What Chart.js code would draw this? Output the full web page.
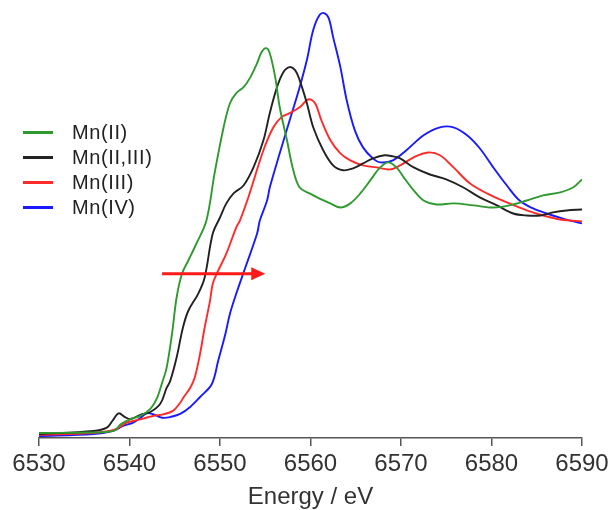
<!DOCTYPE html>
<html>
<head>
<meta charset="utf-8">
<script src="https://cdn.jsdelivr.net/npm/chart.js@4/dist/chart.umd.min.js"></script>
<style>
  html, body { margin: 0; padding: 0; background: #fff; }
  #wrap { position: relative; width: 612px; height: 510px; }
  #legend { position: absolute; left: 0; top: 0; font-family: "Liberation Sans", Arial, sans-serif; font-size: 20px; letter-spacing: 0.6px; color: #222; }
  .item { position: absolute; left: 23px; height: 24px; white-space: nowrap; }
  .swatch { position: absolute; left: 0; top: 11px; width: 30px; height: 3px; }
  .lbl { position: absolute; left: 49px; top: 0; line-height: 24px; }
</style>
</head>
<body>
<div id="wrap">
  <canvas id="c" width="612" height="510"></canvas>
  <div id="legend"></div>
</div>
<script>
// ---- data ----
const seriesLabels = ["Mn(II)", "Mn(II,III)", "Mn(III)", "Mn(IV)"];
const seriesColors = ["#2f9a2f", "#222222", "#ff2a2a", "#1a1aff"];

const mn2E = [6530,6535,6538.2,6539.1,6540.1,6541.2,6542.3,6543.0,6543.6,6544.1,6544.7,6545.2,6545.8,6546.5,6547.4,6548.5,6549.4,6550.4,6551.1,6551.8,6552.6,6553.3,6554.1,6554.6,6555.1,6555.5,6556.1,6556.6,6557.4,6558.1,6558.8,6559.9,6561.0,6562.2,6563.3,6564.4,6565.5,6566.6,6567.7,6568.6,6569.5,6570.3,6571.4,6572.5,6573.9,6575.8,6578.0,6580.2,6582.0,6583.9,6585.7,6587.6,6589.0,6590];
const mn2Y = [0.023,0.025,0.032,0.064,0.086,0.100,0.132,0.177,0.25,0.318,0.473,0.636,0.745,0.805,0.882,0.986,1.2,1.409,1.518,1.564,1.591,1.632,1.70,1.75,1.768,1.745,1.636,1.5,1.35,1.214,1.136,1.109,1.086,1.064,1.045,1.064,1.109,1.168,1.227,1.25,1.227,1.182,1.123,1.077,1.059,1.064,1.055,1.045,1.055,1.077,1.10,1.114,1.136,1.173];

const mn23E = [6530,6536.0,6537.5,6538.1,6538.8,6539.5,6540.1,6541.2,6542.3,6543.4,6544.1,6544.5,6545.2,6545.9,6546.5,6547.6,6548.3,6549.2,6550.0,6550.7,6551.5,6552.6,6553.7,6554.8,6555.5,6556.3,6557.0,6557.7,6558.3,6558.8,6559.6,6560.3,6561.4,6562.5,6563.6,6564.7,6565.8,6566.9,6568.2,6569.1,6569.9,6571.4,6573.2,6575.0,6576.9,6578.7,6580.6,6582.4,6583.9,6585.4,6586.8,6588.3,6590];
const mn23Y = [0.018,0.032,0.047,0.077,0.112,0.095,0.086,0.105,0.118,0.155,0.227,0.259,0.364,0.5,0.577,0.655,0.727,0.927,1.0,1.064,1.109,1.145,1.227,1.35,1.473,1.591,1.659,1.682,1.668,1.623,1.518,1.409,1.305,1.236,1.214,1.223,1.245,1.268,1.282,1.277,1.268,1.227,1.195,1.173,1.136,1.091,1.055,1.018,1.009,1.009,1.023,1.032,1.036];

const mn3E = [6530,6536,6537.8,6538.6,6539.7,6540.4,6541.5,6542.6,6543.7,6544.8,6545.6,6546.0,6546.7,6547.2,6547.8,6548.3,6548.9,6549.2,6549.8,6550.7,6551.8,6552.2,6553.2,6554.8,6555.9,6556.8,6557.7,6558.8,6559.8,6560.5,6561.2,6562.2,6563.3,6564.4,6565.8,6567.3,6568.8,6569.9,6571.4,6573.0,6574.3,6575.8,6577.6,6579.5,6581.7,6583.9,6585.7,6587.6,6590];
const mn3Y = [0.014,0.023,0.032,0.041,0.07,0.077,0.088,0.10,0.107,0.123,0.16,0.186,0.227,0.273,0.382,0.5,0.623,0.70,0.759,0.836,0.955,0.986,1.10,1.305,1.409,1.455,1.473,1.5,1.536,1.518,1.441,1.35,1.291,1.259,1.236,1.227,1.218,1.236,1.273,1.295,1.282,1.227,1.155,1.109,1.068,1.032,1.009,0.991,0.982];

const mn4E = [6530,6536,6538.2,6539.3,6540.4,6541.2,6541.9,6542.6,6543.6,6544.5,6545.6,6546.7,6547.8,6549.1,6549.8,6550.6,6551.1,6551.8,6552.8,6554.1,6554.4,6555.2,6555.5,6556.6,6557.7,6558.8,6559.6,6560.3,6561.0,6561.5,6562.0,6562.5,6563.3,6564.0,6564.9,6565.8,6566.9,6567.7,6569.1,6570.6,6572.5,6574.3,6575.8,6577.3,6578.7,6580.2,6581.7,6583.1,6584.6,6586.1,6587.9,6590];
const mn4Y = [0.009,0.018,0.032,0.055,0.07,0.091,0.112,0.108,0.092,0.095,0.109,0.141,0.186,0.245,0.35,0.473,0.564,0.655,0.773,0.927,0.986,1.077,1.136,1.291,1.441,1.591,1.714,1.85,1.918,1.927,1.905,1.818,1.682,1.532,1.395,1.318,1.268,1.25,1.259,1.305,1.373,1.409,1.409,1.373,1.314,1.227,1.145,1.077,1.041,1.018,0.995,0.973];

const xTicks = [6530, 6540, 6550, 6560, 6570, 6580, 6590];
const xTitle = "Energy / eV";
// shift arrow (energy from -> to, at normalized absorbance level)
const arrowFromE = 6543.6, arrowToE = 6555.0, arrowLevel = 0.745;

const seriesE = [mn2E, mn23E, mn3E, mn4E];
const seriesY = [mn2Y, mn23Y, mn3Y, mn4Y];

const datasets = seriesLabels.map((lab, i) => ({
  label: lab,
  data: seriesE[i].map((e, k) => ({ x: e, y: seriesY[i][k] })),
  borderColor: seriesColors[i],
  backgroundColor: seriesColors[i],
  borderWidth: 1.9,
  pointRadius: 0,
  fill: false,
  tension: 0.35
}));

const arrowPlugin = {
  id: 'arrow',
  afterDatasetsDraw(chart) {
    const xs = chart.scales.x, ys = chart.scales.y, ctx = chart.ctx;
    const x0 = xs.getPixelForValue(arrowFromE);
    const x1 = xs.getPixelForValue(arrowToE);
    const y = ys.getPixelForValue(arrowLevel);
    ctx.save();
    ctx.strokeStyle = '#ff1a1a';
    ctx.fillStyle = '#ff1a1a';
    ctx.lineWidth = 3;
    ctx.beginPath();
    ctx.moveTo(x0, y);
    ctx.lineTo(x1 - 12, y);
    ctx.stroke();
    ctx.beginPath();
    ctx.moveTo(x1, y);
    ctx.lineTo(x1 - 14, y - 6.5);
    ctx.lineTo(x1 - 14, y + 6.5);
    ctx.closePath();
    ctx.fill();
    ctx.restore();
  }
};

const chart = new Chart(document.getElementById('c'), {
  type: 'line',
  data: { datasets },
  options: {
    responsive: false,
    animation: false,
    devicePixelRatio: 1,
    layout: { padding: { left: 39, right: 30, top: 8, bottom: 1 } },
    plugins: { legend: { display: false }, tooltip: { enabled: false } },
    scales: {
      x: {
        type: 'linear',
        min: 6530, max: 6590,
        afterBuildTicks(scale) { scale.ticks = xTicks.map(v => ({ value: v })); },
        afterFit(scale) { scale.paddingLeft = 0; scale.paddingRight = 0; },
        grid: { drawOnChartArea: false, drawTicks: true, tickLength: 8, color: '#555', lineWidth: 1.5 },
        border: { display: true, color: '#555', width: 1.5 },
        ticks: { color: '#333', padding: 6, maxRotation: 0, autoSkip: false,
                 callback: v => String(v),
                 font: { family: '"Liberation Sans", Arial, sans-serif', size: 24, lineHeight: 1.0 } },
        title: { display: true, text: xTitle, color: '#333', padding: { top: 3, bottom: 0 },
                 font: { family: '"Liberation Sans", Arial, sans-serif', size: 24, lineHeight: 1.0 } }
      },
      y: { display: false, min: 0, max: 1.95 }
    }
  },
  plugins: [arrowPlugin]
});

// HTML legend built from the chart's datasets
const leg = document.getElementById('legend');
chart.data.datasets.forEach((ds, i) => {
  const it = document.createElement('div');
  it.className = 'item';
  it.style.top = (120 + i * 25) + 'px';
  const sw = document.createElement('div');
  sw.className = 'swatch';
  sw.style.background = ds.borderColor;
  const tx = document.createElement('div');
  tx.className = 'lbl';
  tx.textContent = ds.label;
  it.appendChild(sw); it.appendChild(tx);
  leg.appendChild(it);
});
</script>
</body>
</html>
